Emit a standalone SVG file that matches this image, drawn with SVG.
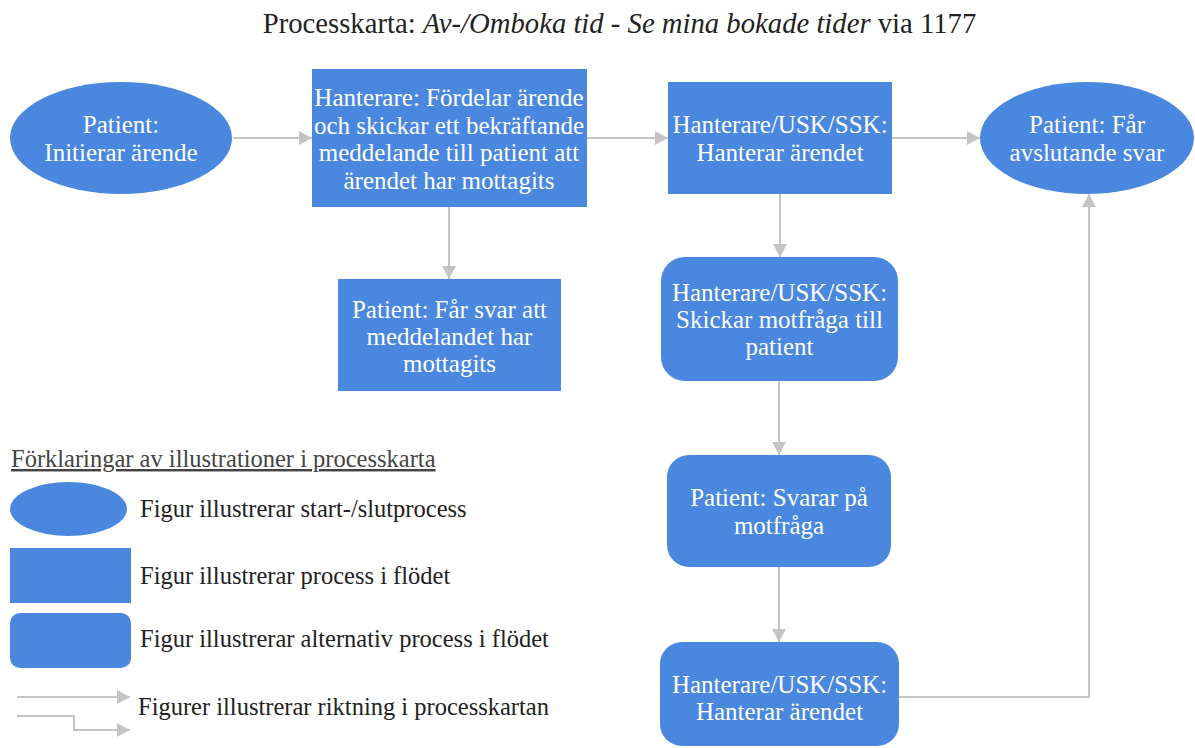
<svg xmlns="http://www.w3.org/2000/svg" width="1195" height="748" viewBox="0 0 1195 748">
<style>
.n{fill:#4a88e0;}
.t{font-size:25px;fill:#ffffff;text-anchor:middle;}
.l{font-size:24.5px;fill:#222222;}
.c{fill:none;stroke:#c4c4c4;stroke-width:2;}
</style>
<defs>
<marker id="ah" markerUnits="userSpaceOnUse" markerWidth="14" markerHeight="14" refX="13" refY="7" orient="auto">
<polygon points="0,0 13,7 0,14" fill="#c4c4c4"/>
</marker>
</defs>
<g font-family="Liberation Serif">
<text x="619.5" y="33" font-size="28.7" fill="#222" text-anchor="middle">Processkarta: <tspan font-style="italic">Av-/Omboka tid - Se mina bokade tider</tspan> via 1177</text>
<g id="connectors">
<path class="c" d="M233,138 H312" marker-end="url(#ah)"/>
<path class="c" d="M587,138 H668" marker-end="url(#ah)"/>
<path class="c" d="M892,138 H980" marker-end="url(#ah)"/>
<path class="c" d="M449,207 V279" marker-end="url(#ah)"/>
<path class="c" d="M780,194 V257" marker-end="url(#ah)"/>
<path class="c" d="M779,381 V455" marker-end="url(#ah)"/>
<path class="c" d="M779,567 V642" marker-end="url(#ah)"/>
<path class="c" d="M899,697 H1089 V194" marker-end="url(#ah)"/>
</g>
<g id="n1"><ellipse class="n" cx="121" cy="138" rx="111" ry="56"/>
<text class="t" x="121" y="133">Patient:</text><text class="t" x="121" y="161">Initierar ärende</text></g>
<g id="n2"><rect class="n" x="312" y="69" width="275" height="138"/>
<text class="t" x="449" y="106">Hanterare: Fördelar ärende</text>
<text class="t" x="449" y="134">och skickar ett bekräftande</text>
<text class="t" x="449" y="161">meddelande till patient att</text>
<text class="t" x="449" y="189">ärendet har mottagits</text></g>
<g id="n3"><rect class="n" x="338" y="279" width="223" height="112"/>
<text class="t" x="449.5" y="318">Patient: Får svar att</text>
<text class="t" x="449.5" y="345">meddelandet har</text>
<text class="t" x="449.5" y="372">mottagits</text></g>
<g id="n4"><rect class="n" x="668" y="82" width="224" height="112"/>
<text class="t" x="780" y="133">Hanterare/USK/SSK:</text>
<text class="t" x="780" y="161">Hanterar ärendet</text></g>
<g id="n5"><ellipse class="n" cx="1087" cy="138" rx="107" ry="56"/>
<text class="t" x="1087" y="133">Patient: Får</text>
<text class="t" x="1087" y="161">avslutande svar</text></g>
<g id="n6"><rect class="n" x="661" y="257" width="237" height="124" rx="24"/>
<text class="t" x="779.5" y="301">Hanterare/USK/SSK:</text>
<text class="t" x="779.5" y="328">Skickar motfråga till</text>
<text class="t" x="779.5" y="355">patient</text></g>
<g id="n7"><rect class="n" x="667" y="455" width="224" height="112" rx="22"/>
<text class="t" x="779" y="506">Patient: Svarar på</text>
<text class="t" x="779" y="534">motfråga</text></g>
<g id="n8"><rect class="n" x="660" y="642" width="239" height="104" rx="22"/>
<text class="t" x="779.5" y="693">Hanterare/USK/SSK:</text>
<text class="t" x="779.5" y="720">Hanterar ärendet</text></g>
<g id="legend">
<text class="l" x="11" y="467" text-decoration="underline" style="fill:#444">Förklaringar av illustrationer i processkarta</text>
<ellipse class="n" cx="68.5" cy="509" rx="58.5" ry="27"/>
<text class="l" x="140" y="517">Figur illustrerar start-/slutprocess</text>
<rect class="n" x="10" y="548" width="121" height="55"/>
<text class="l" x="140" y="584">Figur illustrerar process i flödet</text>
<rect class="n" x="10" y="613" width="121" height="55" rx="10"/>
<text class="l" x="140" y="647">Figur illustrerar alternativ process i flödet</text>
<path class="c" d="M17,697 H130" marker-end="url(#ah)"/>
<path class="c" d="M17,716 H74 V730 H130" marker-end="url(#ah)"/>
<text class="l" x="138" y="715">Figurer illustrerar riktning i processkartan</text>
</g>
</g>
</svg>
